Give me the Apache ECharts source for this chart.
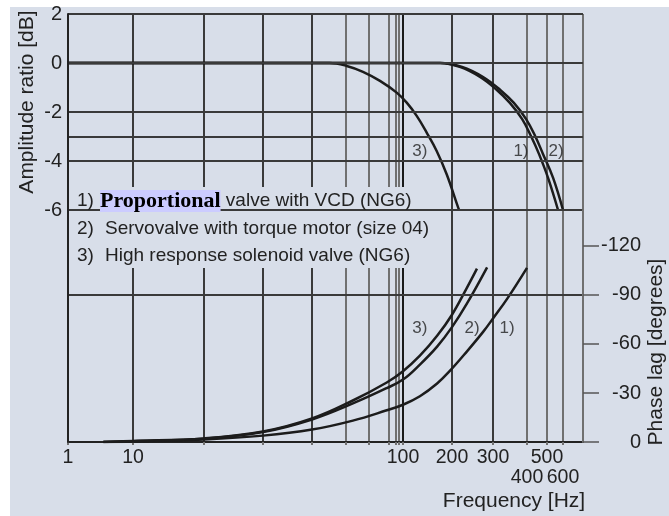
<!DOCTYPE html>
<html>
<head>
<meta charset="utf-8">
<script src="https://cdn.jsdelivr.net/npm/echarts@6/dist/echarts.min.js"></script>
<style>
html, body { margin: 0; padding: 0; background: #fff; }
#chart {
  width: 669px; height: 516px;
  background: linear-gradient(#d8dee9, #d8dee9) 10px 7px / 659px 509px no-repeat, #fff;
}
</style>
</head>
<body>
<div id="chart"></div>
<script>
// frequency grid and tick labels [Hz]
const gridFreqs = [1, 10, 20, 30, 40, 50, 60, 70, 80, 90, 100, 200, 300, 400, 500, 600, 700];
const freqLabels = [1, 10, 100, 200, 300, 400, 500, 600, 700];
const dbLabels = [2, 0, -2, -4, -6];
const dbLines = [2, 0, -2, -3, -4, -6];
const phaseLabels = [0, -30, -60, -90, -120];

// amplitude ratio [dB]
const ampFreq1 = [1, 140, 169, 216, 264, 310, 346, 384, 418, 457, 506, 567];
const ampFreq2 = [1, 140, 169, 221, 272, 319, 358, 397, 438, 478, 536, 600];
const ampDb12 = [0, 0, 0, -0.16, -0.57, -1.10, -1.63, -2.29, -2.98, -3.71, -4.69, -6];
const ampFreq3 = [1, 40, 44.9, 50.3, 57.2, 65.3, 82.2, 105.4, 121.4, 139.8, 161, 185.5, 212.8, 215];
const ampDb3 = [0, 0, 0, -0.12, -0.36, -0.73, -1.21, -1.62, -2.16, -2.84, -3.59, -4.54, -5.91, -6];

// phase lag [degrees]
const phFreq1 = [3.5, 10, 20, 30, 40, 52.8, 68.8, 100, 127, 162, 194, 232, 272, 300, 338, 400];
const ph1 = [0, -0.3, -1.6, -3.9, -7.6, -13.1, -19.4, -22.8, -28, -35.8, -43.5, -55.5, -67.4, -75.6, -87.6, -106.6];
const phFreq2 = [3.5, 10, 20, 30, 40, 52.8, 68.8, 100, 127, 162, 200, 232, 283];
const ph2 = [0, -0.5, -2, -6.1, -13.8, -23.6, -33, -38.2, -47.4, -58.4, -70.3, -84.8, -106.9];
const phFreq3 = [3.5, 10, 20, 30, 40, 52.8, 68.8, 100, 127, 162, 200, 232, 256];
const ph3 = [0, -0.6, -2.2, -6.4, -14.4, -25.4, -36.4, -43.3, -52.8, -65, -77.9, -94.5, -106.1];

// curve tags
const ampTags = ['3)', '1)', '2)'];
const ampTagFreq = [127, 380, 554];
const ampTagDb = -3.6;
const phTags = ['3)', '2)', '1)'];
const phTagFreq = [127, 244, 338];
const phTagDeg = -69.8;

const legendNums = ['1)', '2)', '3)'];
const legendText = [
  '{p|Proportional} valve with VCD (NG6)',
  'Servovalve with torque motor (size 04)',
  'High response solenoid valve (NG6)'
];

// the printed frequency axis is not a clean log scale, so map it piecewise
const stopPos = [0, 65, 136, 195, 244, 278, 301, 321, 328, 331, 335, 384, 425, 459, 479, 495, 515];
function warp(f) {
  for (let i = 0; i < gridFreqs.length - 1; i++) {
    const a = gridFreqs[i], b = gridFreqs[i + 1];
    if (f <= b || i === gridFreqs.length - 2) {
      const t = Math.log(f / a) / Math.log(b / a);
      return stopPos[i] + t * (stopPos[i + 1] - stopPos[i]);
    }
  }
}
function pts(fs, vs) {
  return fs.map((f, i) => [warp(f), vs[i]]);
}

const font = "'Liberation Sans', Arial, Helvetica, sans-serif";
const ink = '#222';
const bg = '#d8dee9';
const darkLine = '#3a3a3a';
const grayLine = '#707070';
const gridPos = gridFreqs.map(warp);
const vColors = gridFreqs.map(f => [50, 60, 70, 80, 90, 400, 500, 600, 700].includes(f) ? grayLine : (f === 100 ? '#1a1a1a' : darkLine));
const curve = { color: '#1c1c1c', width: 2.5 };

function freqLabel(v) {
  let best = 0;
  freqLabels.forEach((f, i) => {
    if (Math.abs(warp(f) - v) < Math.abs(warp(freqLabels[best]) - v)) best = i;
  });
  const f = freqLabels[best];
  return (f === 400 || f === 600) ? '\n' + f : String(f);
}

function curveSeries(xi, yi, data) {
  return { type: 'line', xAxisIndex: xi, yAxisIndex: yi, data, smooth: 0.4, showSymbol: false, lineStyle: curve, z: 3 };
}

const chart = echarts.init(document.getElementById('chart'));
chart.setOption({
  animation: false,
  grid: [
    { left: 68, top: 14, width: 515, height: 196 },
    { left: 68, top: 210, width: 515, height: 232 }
  ],
  xAxis: [
    {
      gridIndex: 0, type: 'value', min: 0, max: 515, z: 0,
      axisLine: { show: false, onZero: false },
      axisTick: { show: false, customValues: gridPos },
      axisLabel: { show: false },
      splitLine: { show: true, lineStyle: { color: vColors, width: 2 } }
    },
    {
      gridIndex: 1, type: 'value', min: 0, max: 515, z: 0,
      axisLine: { show: true, onZero: false, lineStyle: { color: '#222', width: 2 } },
      axisTick: { show: true, length: 3, customValues: gridPos, lineStyle: { color: grayLine, width: 2 } },
      axisLabel: {
        customValues: freqLabels.map(warp), formatter: freqLabel,
        fontFamily: font, fontSize: 19.5, color: ink, margin: 6, lineHeight: 20
      },
      splitLine: { show: true, lineStyle: { color: vColors, width: 2 } }
    }
  ],
  yAxis: [
    {
      gridIndex: 0, type: 'value', min: -6, max: 2, z: 5,
      axisLine: { show: true, onZero: false, lineStyle: { color: '#222', width: 2 } },
      axisTick: { show: false, customValues: dbLines },
      axisLabel: { customValues: dbLabels, fontFamily: font, fontSize: 20, color: ink, margin: 6 },
      splitLine: { show: true, lineStyle: { color: darkLine, width: 2 } }
    },
    {
      gridIndex: 1, type: 'value', position: 'right', inverse: true, min: -142, max: 0, z: 5,
      axisLine: { show: true, onZero: false, lineStyle: { color: grayLine, width: 2 } },
      axisTick: { show: true, length: 16, customValues: phaseLabels, lineStyle: { color: '#555', width: 1.5 } },
      axisLabel: { customValues: phaseLabels, align: 'right', margin: 58, fontFamily: font, fontSize: 20, color: ink },
      splitLine: { show: false }
    },
    {
      gridIndex: 1, type: 'value', position: 'left', min: 0, max: 1, z: 5,
      axisLine: { show: true, onZero: false, lineStyle: { color: '#222', width: 2 } },
      axisTick: { show: false }, axisLabel: { show: false }, splitLine: { show: false }
    }
  ],
  series: [
    curveSeries(0, 0, pts(ampFreq1, ampDb12)),
    curveSeries(0, 0, pts(ampFreq2, ampDb12)),
    curveSeries(0, 0, pts(ampFreq3, ampDb3)),
    Object.assign(curveSeries(1, 1, pts(phFreq1, ph1)), {
      markLine: {
        silent: true, symbol: 'none', label: { show: false },
        lineStyle: { color: darkLine, type: 'solid', width: 2 },
        data: [{ yAxis: -90 }]
      }
    }),
    curveSeries(1, 1, pts(phFreq2, ph2)),
    curveSeries(1, 1, pts(phFreq3, ph3)),
    {
      type: 'scatter', xAxisIndex: 0, yAxisIndex: 0, symbolSize: 0, silent: true, z: 4,
      data: ampTags.map((t, i) => [warp(ampTagFreq[i]), ampTagDb, t]),
      label: { show: true, position: 'inside', formatter: p => p.value[2], fontFamily: font, fontSize: 17, color: ink }
    },
    {
      type: 'scatter', xAxisIndex: 1, yAxisIndex: 1, symbolSize: 0, silent: true, z: 4,
      data: phTags.map((t, i) => [warp(phTagFreq[i]), phTagDeg, t]),
      label: { show: true, position: 'inside', formatter: p => p.value[2], fontFamily: font, fontSize: 17, color: ink }
    }
  ],
  graphic: [
    { type: 'rect', z: 1, shape: { x: 69, y: 187, width: 376, height: 81 }, style: { fill: bg } },
    ...legendNums.map((n, i) => ({
      type: 'text', z: 6, x: 77, y: [201, 229, 256][i],
      style: { text: n, fontFamily: font, fontSize: 19, fill: ink, verticalAlign: 'middle' }
    })),
    ...legendText.map((t, i) => ({
      type: 'text', z: 6, x: [100, 105, 105][i], y: [201, 229, 256][i],
      style: {
        text: t, fontFamily: font, fontSize: 19, fill: ink, verticalAlign: 'middle',
        rich: {
          p: {
            fontFamily: "'Liberation Serif', 'Times New Roman', serif", fontWeight: 'bold',
            fontSize: 22, lineHeight: 23, fill: '#000', backgroundColor: '#ccccff'
          }
        }
      }
    })),
    {
      type: 'text', z: 6, x: 27, y: 102, rotation: Math.PI / 2,
      style: { text: 'Amplitude ratio [dB]', fontFamily: font, fontSize: 21, fill: ink, align: 'center', verticalAlign: 'middle' }
    },
    {
      type: 'text', z: 6, x: 656, y: 352, rotation: Math.PI / 2,
      style: { text: 'Phase lag [degrees]', fontFamily: font, fontSize: 21, fill: ink, align: 'center', verticalAlign: 'middle' }
    },
    {
      type: 'text', z: 6, x: 514, y: 501,
      style: { text: 'Frequency [Hz]', fontFamily: font, fontSize: 21, fill: ink, align: 'center', verticalAlign: 'middle' }
    }
  ]
});
</script>
</body>
</html>
